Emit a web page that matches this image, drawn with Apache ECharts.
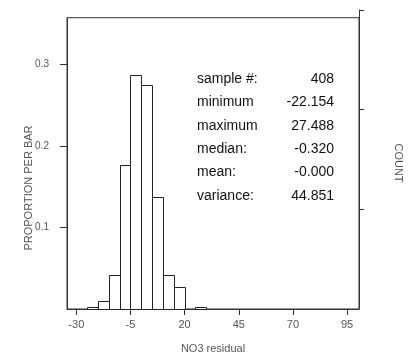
<!DOCTYPE html>
<html>
<head>
<meta charset="utf-8">
<script src="https://cdn.jsdelivr.net/npm/echarts@6/dist/echarts.min.js"></script>
<style>html,body{margin:0;padding:0;background:#fff}#c{width:417px;height:360px}</style>
</head>
<body>
<div id="c"></div>
<script>
// Histogram bins (NO3 residual), proportion per bar
const binLower = [-25, -20, -15, -10, -5, 0, 5, 10, 15, 25];
const binUpper = [-20, -15, -10, -5, 0, 5, 10, 15, 20, 30];
const counts = [1, 4, 17, 72, 117, 112, 56, 17, 11, 1];
const sampleSize = 408;
const proportion = counts.map(c => c / sampleSize);

const xTicks = [-30, -5, 20, 45, 70, 95];
const yTicks = [0.1, 0.2, 0.3];
const countTicks = [50, 100, 150];

const statLabels = ['sample #:', 'minimum', 'maximum', 'median:', 'mean:', 'variance:'];
const statValues = ['408', '-22.154', '27.488', '-0.320', '-0.000', '44.851'];

const xMin = -34.3, xMax = 100.5;
const yMax = 0.357;

const chart = echarts.init(document.getElementById('c'), null, {renderer: 'canvas'});
const lineCol = '#333';
const labCol = '#555';
const font = 'Liberation Sans, Arial, sans-serif';

const graphics = [];
statLabels.forEach((t, i) => {
  graphics.push({type: 'text', left: 197, top: 72 + i * 23.4,
    style: {text: t, fill: '#111', font: '14px ' + font}});
  graphics.push({type: 'text', right: 417 - 334, top: 72 + i * 23.4,
    style: {text: statValues[i], fill: '#111', font: '14px ' + font, textAlign: 'right'}});
});
graphics.push({type: 'text', x: 29, y: 188, rotation: Math.PI / 2,
  style: {text: 'PROPORTION PER BAR', fill: labCol, font: '11px ' + font, textAlign: 'center', textVerticalAlign: 'middle'}});
graphics.push({type: 'text', x: 398, y: 163, rotation: -Math.PI / 2,
  style: {text: 'COUNT', fill: labCol, font: '11px ' + font, textAlign: 'center', textVerticalAlign: 'middle'}});

chart.setOption({
  animation: false,
  backgroundColor: '#fff',
  grid: [
    {left: 67, right: 58, top: 17.7, bottom: 51, show: true, borderColor: lineCol, borderWidth: 1},
    {left: 67, right: 58, top: 10, bottom: 51}
  ],
  xAxis: [
    {type: 'value', gridIndex: 0, min: xMin, max: xMax,
     name: 'NO3 residual', nameLocation: 'middle', nameGap: 34,
     nameTextStyle: {color: labCol, fontSize: 11, fontFamily: font},
     axisLine: {show: true, onZero: false, lineStyle: {color: lineCol}},
     axisTick: {show: true, length: 6, customValues: xTicks, lineStyle: {color: lineCol}},
     axisLabel: {customValues: xTicks, color: labCol, fontSize: 11, fontFamily: font, margin: 10},
     splitLine: {show: false}},
    {type: 'value', gridIndex: 1, min: xMin, max: xMax, show: false}
  ],
  yAxis: [
    {type: 'value', gridIndex: 0, min: 0, max: yMax,
     axisLine: {show: true, onZero: false, lineStyle: {color: lineCol}},
     axisTick: {show: true, length: 7, customValues: yTicks, lineStyle: {color: lineCol}},
     axisLabel: {customValues: yTicks, color: labCol, fontSize: 10, fontFamily: font, margin: 18,
       formatter: v => v.toFixed(1)},
     splitLine: {show: false}},
    {type: 'value', gridIndex: 1, position: 'right', min: 0, max: 150,
     axisLine: {show: true, onZero: false, lineStyle: {color: lineCol}},
     axisTick: {show: true, length: 5, customValues: countTicks, lineStyle: {color: lineCol}},
     axisLabel: {show: false},
     splitLine: {show: false}}
  ],
  series: [{
    type: 'custom', xAxisIndex: 0, yAxisIndex: 0,
    data: binLower.map((lo, i) => [lo, binUpper[i], proportion[i]]),
    renderItem: (params, api) => {
      const p0 = api.coord([api.value(0), 0]);
      const p1 = api.coord([api.value(1), api.value(2)]);
      return {type: 'rect',
        shape: {x: Math.round(p0[0]) + 0.5, y: Math.round(p1[1]) + 0.5,
                width: Math.round(p1[0]) - Math.round(p0[0]), height: Math.round(p0[1]) - Math.round(p1[1])},
        style: {fill: '#fff', stroke: '#222', lineWidth: 1}};
    }
  }],
  graphic: graphics
});
</script>
</body>
</html>
